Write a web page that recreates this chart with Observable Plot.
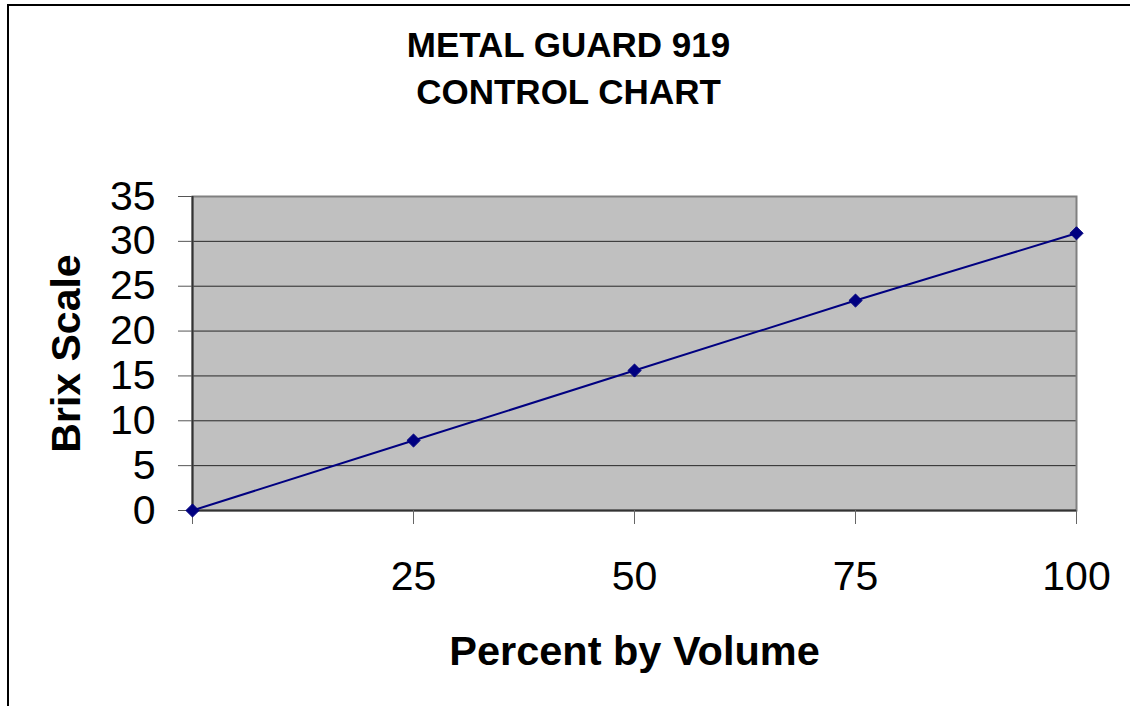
<!DOCTYPE html>
<html>
<head>
<meta charset="utf-8">
<script src="https://cdn.jsdelivr.net/npm/d3@7"></script>
<script src="https://cdn.jsdelivr.net/npm/@observablehq/plot@0.6"></script>
<style>
  html, body { margin: 0; padding: 0; background: #fff; }
  #wrap { position: relative; width: 1130px; height: 706px; overflow: hidden; font-family: "Liberation Sans", Arial, sans-serif; }
  #border { position: absolute; left: 7px; top: 4px; width: 2000px; height: 2000px; border-top: 2px solid #000; border-left: 2px solid #000; }
  #chart { position: absolute; left: 0; top: 0; }
</style>
</head>
<body>
<div id="wrap"><div id="border"></div><div id="chart"></div></div>
<script>
const titleLines = ["METAL GUARD 919", "CONTROL CHART"];
const xTitle = "Percent by Volume";
const yTitle = "Brix Scale";
const percent = [0, 25, 50, 75, 100];
const brix = [0, 7.8, 15.6, 23.4, 30.9];
const xTicks = [0, 25, 50, 75, 100];
const yTicks = [0, 5, 10, 15, 20, 25, 30, 35];
const gridValues = [5, 10, 15, 20, 25, 30];

const data = percent.map((p, i) => ({percent: p, brix: brix[i]}));
const font = "Liberation Sans, Arial, sans-serif";

const chart = Plot.plot({
  width: 1130,
  height: 706,
  marginLeft: 192,
  marginRight: 54,
  marginTop: 196,
  marginBottom: 196,
  style: {fontFamily: font, background: "transparent", overflow: "visible"},
  x: {domain: [0, 100], ticks: xTicks},
  y: {domain: [0, 35], ticks: yTicks},
  marks: [
    Plot.rect([0], {x1: 0, x2: 100, y1: 0, y2: 35, fill: "#c0c0c0"}),
    Plot.ruleY(gridValues, {stroke: "#000", strokeWidth: 1, strokeOpacity: 0.8}),
    Plot.frame({stroke: "#808080", strokeWidth: 2}),
    Plot.ruleX([0], {stroke: "#333", strokeWidth: 2}),
    Plot.ruleY([0], {stroke: "#333", strokeWidth: 2}),
    Plot.axisX({ticks: xTicks, tickSize: 14, tickPadding: 36, fontSize: 41, stroke: "#666",
      fill: "#000", tickFormat: d => d === 0 ? "" : String(d), label: null}),
    Plot.axisY({ticks: yTicks, tickSize: 14, tickPadding: 23, fontSize: 41, stroke: "#555",
      fill: "#000", dy: 0, label: null}),
    Plot.line(data, {x: "percent", y: "brix", stroke: "#000080", strokeWidth: 2}),
    Plot.dot(data, {x: "percent", y: "brix", symbol: "diamond2", r: 5.9, fill: "#000080", stroke: "#000080", strokeWidth: 1}),
    Plot.text([titleLines.join("\n")], {frameAnchor: "top", dx: -66, dy: -172, lineAnchor: "top",
      lineHeight: 1.32, fontSize: 35, fontWeight: "bold", fill: "#000"}),
    Plot.text([xTitle], {frameAnchor: "bottom", dy: 154, fontSize: 41.5, fontWeight: "bold", fill: "#000"}),
    Plot.text([yTitle], {frameAnchor: "left", textAnchor: "middle", dx: -126, rotate: -90, fontSize: 41, fontWeight: "bold", fill: "#000"})
  ]
});
document.getElementById("chart").appendChild(chart);
</script>
</body>
</html>
